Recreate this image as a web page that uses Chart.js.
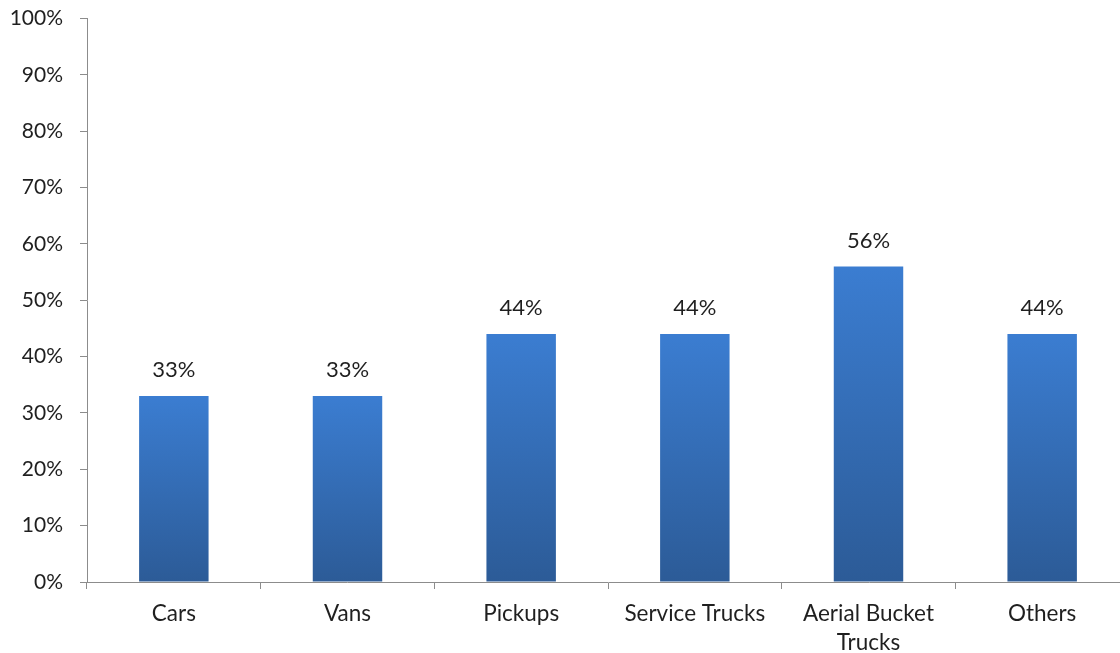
<!DOCTYPE html>
<html>
<head>
<meta charset="utf-8">
<script src="https://cdn.jsdelivr.net/npm/chart.js@4.4.1/dist/chart.umd.min.js"></script>
<style>
  html, body { margin: 0; padding: 0; background: #fff; overflow: hidden; }
  #wrap { width: 1129px; height: 664px; margin-top: -11px; position: relative; }
</style>
</head>
<body>
<div id="wrap"><canvas id="myChart"></canvas></div>
<script>
const ctx = document.getElementById('myChart')

const categories = ['Cars', 'Vans', 'Pickups', 'Service Trucks', ['Aerial Bucket', 'Trucks'], 'Others']
const shares = [33, 33, 44, 44, 56, 44]
const yTicks = [0, 10, 20, 30, 40, 50, 60, 70, 80, 90, 100]

const textColor = '#1f1f1f'
const axisColor = '#8c8c8c'
const fontFamily = 'Lato, "Open Sans", sans-serif'

// each bar gets its own top-to-bottom gradient
function barGradient(context) {
    const chart = context.chart
    const y = chart.scales.y
    if (!chart.chartArea || !y) return '#3a78c8'
    const top = y.getPixelForValue(context.raw)
    const bottom = y.getPixelForValue(0)
    const g = chart.ctx.createLinearGradient(0, top, 0, bottom)
    g.addColorStop(0, '#3b7dd1')
    g.addColorStop(1, '#2c5b97')
    return g
}

// value labels above the bars
const valueLabels = {
    id: 'valueLabels',
    afterDatasetsDraw(chart) {
        const c = chart.ctx
        const meta = chart.getDatasetMeta(0)
        c.save()
        c.font = '22px ' + fontFamily
        c.fillStyle = textColor
        c.textAlign = 'center'
        c.textBaseline = 'middle'
        meta.data.forEach((bar, i) => {
            c.fillText(shares[i] + '%', bar.x, bar.y - 26)
        })
        c.restore()
    }
}

const config = {
    type: 'bar',
    data: {
        labels: categories,
        datasets: [{
            data: shares,
            backgroundColor: barGradient,
            borderWidth: 0,
            barPercentage: 0.4,
            categoryPercentage: 1
        }]
    },
    options: {
        responsive: true,
        maintainAspectRatio: false,
        animation: false,
        layout: { padding: { top: 8, left: 0, right: 0, bottom: 0 } },
        plugins: {
            legend: { display: false },
            tooltip: { enabled: false }
        },
        scales: {
            x: {
                grid: {
                    offset: true,
                    drawOnChartArea: false,
                    drawTicks: true,
                    tickLength: 7,
                    color: axisColor
                },
                border: { color: axisColor, width: 1 },
                ticks: {
                    color: textColor,
                    font: { family: fontFamily, size: 22.5, lineHeight: 1.3 },
                    padding: 10,
                    maxRotation: 0,
                    autoSkip: false
                },
                afterFit(scale) { scale.height = 71 }
            },
            y: {
                min: 0,
                max: 100,
                afterBuildTicks(scale) {
                    scale.ticks = yTicks.map(v => ({ value: v }))
                },
                grid: {
                    drawOnChartArea: false,
                    drawTicks: true,
                    tickLength: 7,
                    color: axisColor
                },
                border: { color: axisColor, width: 1 },
                ticks: {
                    color: textColor,
                    font: { family: fontFamily, size: 21 },
                    padding: 17,
                    callback: v => v + '%'
                },
                afterFit(scale) { scale.width = 87 }
            }
        }
    },
    plugins: [valueLabels]
}

const myChart = new Chart(ctx, config)
</script>
</body>
</html>
